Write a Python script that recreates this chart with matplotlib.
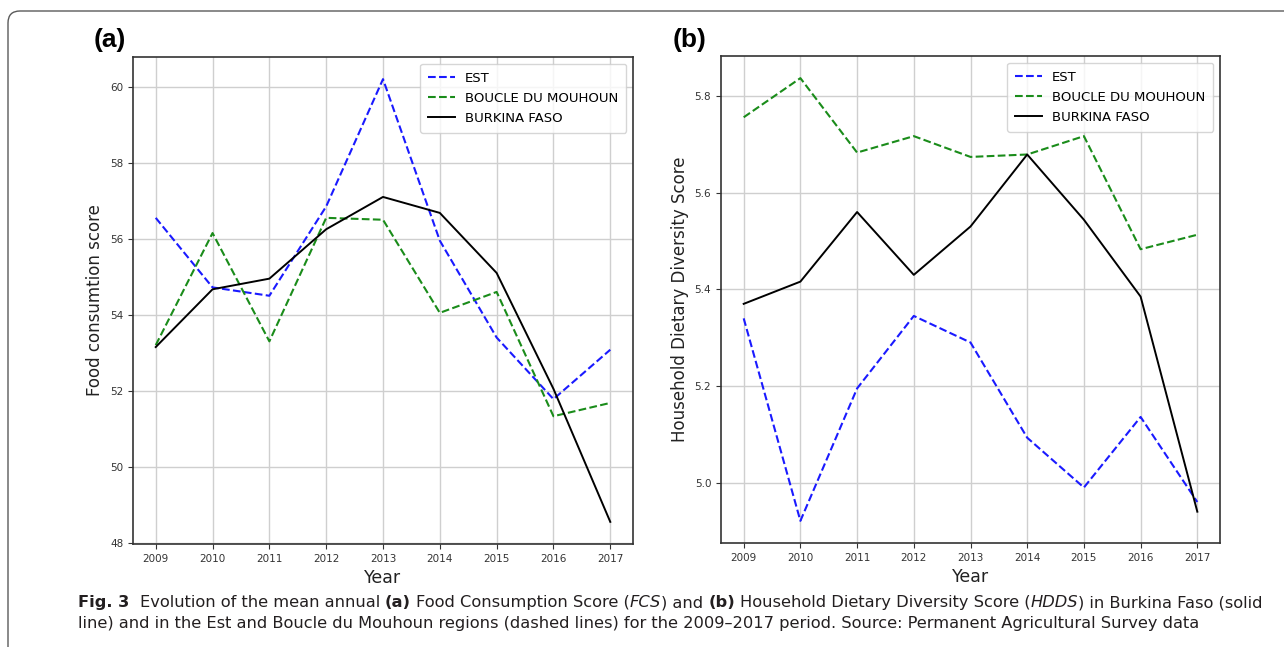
import matplotlib
matplotlib.use('Agg')
import matplotlib.pyplot as plt
from matplotlib import font_manager
from matplotlib.patches import FancyBboxPatch

# data
years = [2009, 2010, 2011, 2012, 2013, 2014, 2015, 2016, 2017]

fcs_est = [56.55, 54.72, 54.5, 56.85, 60.2, 55.95, 53.4, 51.78, 53.08]
fcs_boucle = [53.2, 56.15, 53.3, 56.55, 56.5, 54.05, 54.6, 51.33, 51.68]
fcs_bf = [53.15, 54.67, 54.95, 56.25, 57.1, 56.68, 55.1, 52.05, 48.55]

hdds_est = [5.34, 4.921, 5.195, 5.345, 5.29, 5.093, 4.99, 5.136, 4.96]
hdds_boucle = [5.756, 5.837, 5.683, 5.717, 5.674, 5.679, 5.717, 5.483, 5.513]
hdds_bf = [5.37, 5.416, 5.56, 5.43, 5.53, 5.679, 5.544, 5.385, 4.94]

series_names = ['EST', 'BOUCLE DU MOUHOUN', 'BURKINA FASO']
ylabels = ['Food consumtion score', 'Household Dietary Diversity Score']
panel_tags = ['(a)', '(b)']

W, H = 1284, 647


def has_font(name):
    try:
        font_manager.findfont(font_manager.FontProperties(family=name),
                              fallback_to_default=False)
        return True
    except Exception:
        return False


narrow = 'Liberation Sans Narrow' if has_font('Liberation Sans Narrow') else 'DejaVu Sans'
bold_font = 'Liberation Sans' if has_font('Liberation Sans') else 'DejaVu Sans'

fig = plt.figure(figsize=(W / 100, H / 100), dpi=100)

# rounded frame around the figure (top-left corner visible)
frame = FancyBboxPatch((0.08, -0.6), 13.5, 6.36 + 0.6,
                       boxstyle='round,pad=0,rounding_size=0.12',
                       transform=fig.dpi_scale_trans, facecolor='none',
                       edgecolor='#5a5a5a', linewidth=1.0)
fig.add_artist(frame)

# axes boxes in pixels: left, top, right, bottom
boxes = [(133, 57, 633, 544), (721, 56, 1220, 543)]
data = [(fcs_est, fcs_boucle, fcs_bf), (hdds_est, hdds_boucle, hdds_bf)]
tag_pos = [(110, 40), (690, 40)]

for i in range(2):
    l, t, r, b = boxes[i]
    ax = fig.add_axes([l / W, 1 - b / H, (r - l) / W, (b - t) / H])
    est, boucle, bf = data[i]
    ax.plot(years, est, '--', color='#1a1aff', lw=1.5, label=series_names[0])
    ax.plot(years, boucle, '--', color='#1a8c1a', lw=1.5, label=series_names[1])
    ax.plot(years, bf, '-', color='black', lw=1.4, label=series_names[2])
    ax.set_xticks(years)
    ax.grid(True, color='#cfcfcf', lw=1.0)
    ax.set_axisbelow(True)
    for sp in ax.spines.values():
        sp.set_color('#333333')
        sp.set_linewidth(1.2)
    ax.tick_params(labelsize=7.5, colors='#333333', length=3.5)
    if i == 1:
        ax.set_yticks([5.0, 5.2, 5.4, 5.6, 5.8])
    ax.set_xlabel('Year', fontsize=12.5, color='#222222')
    ax.set_ylabel(ylabels[i], fontsize=12, color='#222222')
    ax.legend(loc='upper right', fontsize=9.5, handlelength=2.0,
              labelspacing=0.55, borderpad=0.6)
    fig.text(tag_pos[i][0] / W, 1 - tag_pos[i][1] / H, panel_tags[i],
             fontsize=19, fontweight='bold', family=bold_font,
             ha='center', va='center', color='black')

# caption, drawn piece by piece so bold/italic parts can be mixed
line1 = [('Fig. 3', 'bold', 'normal'), ('  Evolution of the mean annual', 'normal', 'normal'),
         (' (a)', 'bold', 'normal'), (' Food Consumption Score (', 'normal', 'normal'),
         ('FCS', 'normal', 'italic'), (') and', 'normal', 'normal'),
         (' (b)', 'bold', 'normal'), (' Household Dietary Diversity Score (', 'normal', 'normal'),
         ('HDDS', 'normal', 'italic'), (') in Burkina Faso (solid', 'normal', 'normal')]
line2 = [('line) and in the Est and Boucle du Mouhoun regions (dashed lines) for the '
          '2009\u20132017 period. Source: Permanent Agricultural Survey data', 'normal', 'normal')]

renderer = fig.canvas.get_renderer()


def draw_line(parts, x0, base, size, keep=True):
    sp = fig.text(0, 0, 'a a', fontsize=size, family=narrow)
    nsp = fig.text(0, 0, 'aa', fontsize=size, family=narrow)
    space_w = sp.get_window_extent(renderer).width - nsp.get_window_extent(renderer).width
    sp.remove()
    nsp.remove()
    x = x0
    made = []
    for txt, weight, style in parts:
        lead = len(txt) - len(txt.lstrip(' '))
        x += lead * space_w
        t = fig.text(x / W, 1 - base / H, txt.lstrip(' '), fontsize=size,
                     family=narrow, fontweight=weight, fontstyle=style,
                     ha='left', va='baseline', color='#231f20')
        x += t.get_window_extent(renderer).width
        made.append(t)
    if not keep:
        for t in made:
            t.remove()
    return x - x0


w12 = draw_line(line1, 78, 607, 12, keep=False)
cap_size = 12 * (1254 - 78) / w12
draw_line(line1, 78, 607, cap_size)
draw_line(line2, 78, 628, cap_size)

fig.savefig('out.png', dpi=100)
